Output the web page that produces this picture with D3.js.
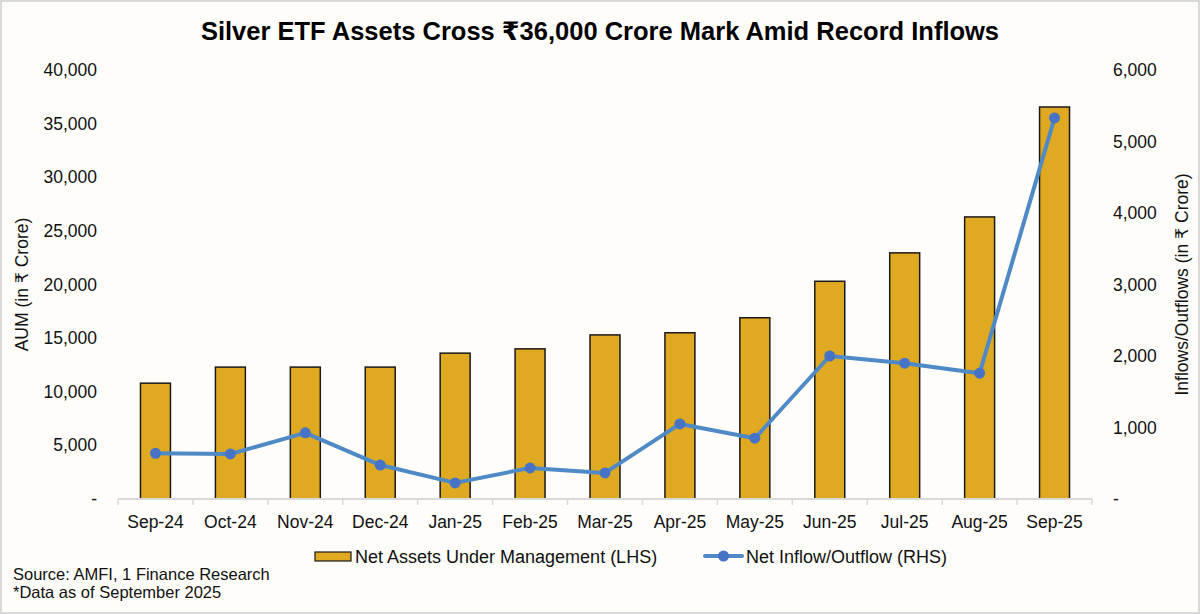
<!DOCTYPE html>
<html>
<head>
<meta charset="utf-8">
<script src="https://cdn.jsdelivr.net/npm/d3@7"></script>
<style>
  html, body { margin: 0; padding: 0; background: #fefdf9; }
  svg { display: block; }
  text { font-family: "Liberation Sans", Arial, "DejaVu Sans", sans-serif; }
</style>
</head>
<body>
<div id="chart"></div>
<script>
// data
const months = ["Sep-24", "Oct-24", "Nov-24", "Dec-24", "Jan-25", "Feb-25", "Mar-25",
                "Apr-25", "May-25", "Jun-25", "Jul-25", "Aug-25", "Sep-25"];
const aum = [10800, 12300, 12300, 12300, 13600, 14000, 15300, 15500, 16900, 20300, 22950, 26300, 36550];
const flows = [640, 630, 925, 475, 225, 435, 365, 1050, 850, 2000, 1900, 1760, 5330];
const leftTicks = [0, 5000, 10000, 15000, 20000, 25000, 30000, 35000, 40000];
const rightTicks = [0, 1000, 2000, 3000, 4000, 5000, 6000];

const W = 1200, H = 614;
const margin = { top: 70, right: 108, bottom: 115, left: 118 };
const innerW = W - margin.left - margin.right;
const innerH = H - margin.top - margin.bottom;

const barColor = "#dfa921";
const lineColor = "#4f8ac6";
const dotColor = "#4673c6";
const textColor = "#111";
const fmt = d => d === 0 ? "-" : d3.format(",")(d);

const svg = d3.select("#chart").append("svg")
    .attr("width", W)
    .attr("height", H);

// background + frame
svg.append("rect")
    .attr("x", 1).attr("y", 1)
    .attr("width", W - 2).attr("height", H - 2)
    .attr("fill", "#fefdf9")
    .attr("stroke", "#d9d9d9")
    .attr("stroke-width", 2);

svg.append("text")
    .attr("x", W / 2)
    .attr("y", 40)
    .attr("text-anchor", "middle")
    .style("font-size", "25.5px")
    .style("font-weight", "bold")
    .attr("fill", "#000")
    .text("Silver ETF Assets Cross ₹36,000 Crore Mark Amid Record Inflows");

const g = svg.append("g")
    .attr("transform", `translate(${margin.left},${margin.top})`);

const xBand = d3.scaleBand().domain(months).range([0, innerW]);
const yL = d3.scaleLinear().domain([0, 40000]).range([innerH, 0]);
const yR = d3.scaleLinear().domain([0, 6000]).range([innerH, 0]);

// left axis
const left = g.append("g")
    .call(d3.axisLeft(yL).tickValues(leftTicks).tickFormat(fmt).tickSize(0).tickPadding(21));
left.select(".domain").remove();
left.selectAll("text").style("font-size", "17.5px").attr("fill", textColor);

// right axis
const right = g.append("g")
    .attr("transform", `translate(${innerW},0)`)
    .call(d3.axisRight(yR).tickValues(rightTicks).tickFormat(fmt).tickSize(0).tickPadding(21));
right.select(".domain").remove();
right.selectAll("text").style("font-size", "17.5px").attr("fill", textColor);

// bars
g.selectAll(".bar")
    .data(aum)
    .join("rect")
    .attr("class", "bar")
    .attr("x", (d, i) => xBand(months[i]) + xBand.bandwidth() * 0.3)
    .attr("width", xBand.bandwidth() * 0.4)
    .attr("y", d => yL(d))
    .attr("height", d => innerH - yL(d))
    .attr("fill", barColor)
    .attr("stroke", "#1a1a1a")
    .attr("stroke-width", 1.5);

// x axis
const xAxis = g.append("g")
    .attr("transform", `translate(0,${innerH})`);
xAxis.append("line")
    .attr("x1", 0).attr("x2", innerW)
    .attr("stroke", "#d9d9d9").attr("stroke-width", 2);
xAxis.selectAll(".sep")
    .data(d3.range(months.length + 1))
    .join("line")
    .attr("x1", i => i * xBand.step())
    .attr("x2", i => i * xBand.step())
    .attr("y1", 0).attr("y2", 6)
    .attr("stroke", "#d9d9d9").attr("stroke-width", 1.5);
xAxis.selectAll(".lbl")
    .data(months)
    .join("text")
    .attr("x", d => xBand(d) + xBand.bandwidth() / 2)
    .attr("y", 29)
    .attr("text-anchor", "middle")
    .style("font-size", "17.5px")
    .attr("fill", textColor)
    .text(d => d);

// line
const line = d3.line()
    .x((d, i) => xBand(months[i]) + xBand.bandwidth() / 2)
    .y(d => yR(d));
g.append("path")
    .datum(flows)
    .attr("d", line)
    .attr("fill", "none")
    .attr("stroke", lineColor)
    .attr("stroke-width", 4)
    .attr("stroke-linejoin", "round");
g.selectAll(".dot")
    .data(flows)
    .join("circle")
    .attr("cx", (d, i) => xBand(months[i]) + xBand.bandwidth() / 2)
    .attr("cy", d => yR(d))
    .attr("r", 5.5)
    .attr("fill", dotColor);

// axis titles
svg.append("text")
    .attr("transform", `translate(28,${margin.top + innerH / 2}) rotate(-90)`)
    .attr("text-anchor", "middle")
    .style("font-size", "17.5px")
    .attr("fill", textColor)
    .text("AUM (in ₹ Crore)");
svg.append("text")
    .attr("transform", `translate(1188,${margin.top + innerH / 2}) rotate(-90)`)
    .attr("text-anchor", "middle")
    .style("font-size", "17.5px")
    .attr("fill", textColor)
    .text("Inflows/Outflows (in ₹ Crore)");

// legend
const leg = svg.append("g").attr("transform", "translate(0,556)");
leg.append("rect")
    .attr("x", 315).attr("y", -4)
    .attr("width", 36).attr("height", 9)
    .attr("fill", barColor)
    .attr("stroke", "#1a1a1a").attr("stroke-width", 1.2);
leg.append("text")
    .attr("x", 355).attr("y", 7)
    .style("font-size", "18px").attr("fill", textColor)
    .text("Net Assets Under Management (LHS)");
leg.append("line")
    .attr("x1", 705).attr("x2", 742)
    .attr("stroke", lineColor).attr("stroke-width", 4).attr("stroke-linecap", "round");
leg.append("circle")
    .attr("cx", 723.5).attr("cy", 0).attr("r", 5.5)
    .attr("fill", dotColor);
leg.append("text")
    .attr("x", 746).attr("y", 7)
    .style("font-size", "18px").attr("fill", textColor)
    .text("Net Inflow/Outflow (RHS)");

// source notes
svg.append("text")
    .attr("x", 13).attr("y", 580)
    .style("font-size", "16.5px").attr("fill", textColor)
    .text("Source: AMFI, 1 Finance Research");
svg.append("text")
    .attr("x", 13).attr("y", 598)
    .style("font-size", "16.5px").attr("fill", textColor)
    .text("*Data as of September 2025");
</script>
</body>
</html>
